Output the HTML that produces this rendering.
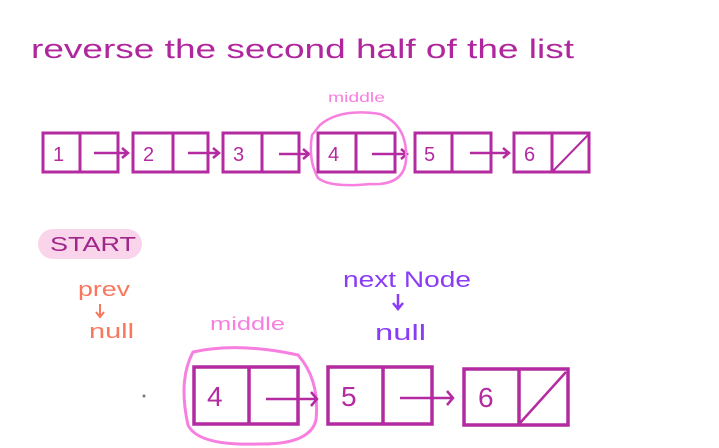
<!DOCTYPE html>
<html><head><style>html,body{margin:0;padding:0;background:#fff;}svg{display:block}</style></head>
<body>
<svg width="719" height="448" viewBox="0 0 719 448" xmlns="http://www.w3.org/2000/svg" font-family="'Liberation Sans', sans-serif">
<text x="31" y="58" font-size="27" fill="#b0269c" textLength="543" lengthAdjust="spacingAndGlyphs">reverse the second half of the list</text>
<text x="328" y="102" font-size="14" fill="#f77fe0" textLength="57" lengthAdjust="spacingAndGlyphs">middle</text>
<g stroke="#b42aa0" stroke-width="3" fill="none">
<rect x="43" y="133" width="75" height="39"/><line x1="80" y1="133" x2="80" y2="172"/>
<rect x="133" y="133" width="75" height="39"/><line x1="173" y1="133" x2="173" y2="172"/>
<rect x="223" y="133" width="76" height="39"/><line x1="262" y1="133" x2="262" y2="172"/>
<rect x="318" y="133" width="77" height="39"/><line x1="356" y1="133" x2="356" y2="172"/>
<rect x="415" y="133" width="76" height="39"/><line x1="452" y1="133" x2="452" y2="172"/>
<rect x="514" y="133" width="75" height="39"/><line x1="552" y1="133" x2="552" y2="172"/><line x1="553" y1="171" x2="588" y2="135" stroke-width="2"/>
</g>
<g stroke="#b42aa0" stroke-width="2.5" fill="none">
<path d="M94 153 H127 M122 148 L128 153 L122 158"/>
<path d="M188 153 H218 M213 148 L219 153 L213 158"/>
<path d="M279 154 H308 M303 149 L309 154 L303 159"/>
<path d="M372 154 H406 M401 149 L407 154 L401 159"/>
<path d="M470 153 H508 M503 148 L509 153 L503 158"/>
</g>
<g font-size="20" fill="#b42aa0">
<text x="53" y="161">1</text><text x="143" y="161">2</text><text x="233" y="161">3</text>
<text x="328" y="161">4</text><text x="424" y="161">5</text><text x="524" y="161">6</text>
</g>
<path d="M320 125 Q340 108 380 114 Q408 125 406 160 Q404 186 370 184 Q330 188 318 178 Q308 160 312 135 Z" stroke="#f77fe0" stroke-width="2.5" fill="none"/>
<rect x="38" y="229" width="104" height="30" rx="15" fill="#f9d4ea"/>
<text x="50" y="251" font-size="20" fill="#a0268a" textLength="86" lengthAdjust="spacingAndGlyphs">START</text>
<text x="78" y="296" font-size="20" fill="#f8785e" textLength="52" lengthAdjust="spacingAndGlyphs">prev</text>
<path d="M100 304 V316 M96 312 L100 317 L104 312" stroke="#f8785e" stroke-width="2" fill="none"/>
<text x="89" y="338" font-size="20" fill="#f8785e" textLength="45" lengthAdjust="spacingAndGlyphs">null</text>
<text x="343" y="287" font-size="22" fill="#8a3cf5" textLength="128" lengthAdjust="spacingAndGlyphs">next Node</text>
<path d="M398 294 V308 M393 303 L398 309 L403 303" stroke="#8a3cf5" stroke-width="2.5" fill="none"/>
<text x="375" y="340" font-size="22" fill="#8a3cf5" textLength="51" lengthAdjust="spacingAndGlyphs">null</text>
<text x="210" y="330" font-size="18" fill="#f77fe0" textLength="75" lengthAdjust="spacingAndGlyphs">middle</text>
<circle cx="144" cy="396" r="1.5" fill="#777"/>
<path d="M193 352 Q238 342 298 355 Q320 380 316 420 Q310 445 258 444 Q198 446 188 425 Q178 380 193 352 Z" stroke="#f77fe0" stroke-width="3" fill="none"/>
<g stroke="#b42aa0" stroke-width="3.5" fill="none">
<rect x="194" y="367" width="104" height="57"/><line x1="249" y1="367" x2="249" y2="424"/>
<rect x="328" y="367" width="104" height="57"/><line x1="383" y1="367" x2="383" y2="424"/>
<rect x="464" y="369" width="104" height="56"/><line x1="519" y1="369" x2="519" y2="425"/>
<line x1="520" y1="423" x2="566" y2="372" stroke-width="2.5"/>
</g>
<g stroke="#b42aa0" stroke-width="2.5" fill="none">
<path d="M266 399 H316 M311 392 L317 399 L311 406"/>
<path d="M400 398 H452 M447 391 L453 398 L447 405"/>
</g>
<g font-size="28" fill="#b42aa0">
<text x="207" y="406">4</text><text x="341" y="406">5</text><text x="478" y="407">6</text>
</g>
</svg>
</body></html>
